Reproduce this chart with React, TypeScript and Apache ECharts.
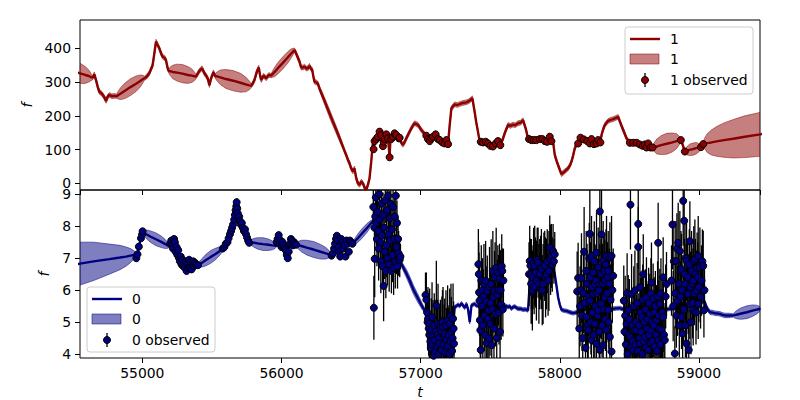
import React, { useEffect, useRef } from "react";
import * as echarts from "echarts";

// ---------------- data ----------------
const X_MIN = 54552;
const X_MAX = 59439;
const TOP_Y = [-20, 484];
const BOT_Y = [3.88, 9.13];

// top model (output "1"): [t, mean, sd]
const redModel: number[][] = [
  [54460,335,28],[54500,331,31],[54552,326,30],[54590,321,25],[54615,318,18],[54635,314,9],[54643,313,6],
  [54655,323,7],[54667,306,7],[54680,285,7],[54691,271,7],[54703,268,7],[54715,262,7],[54727,255,7],[54739,244,7],[54750,256,7],[54763,262,7],[54780,258,7],[54799,259,7],[54815,258,6],
  [54825,261,11],[54845,266,18],[54875,274,23],[54915,285,25],[54955,295,23],[54985,303,18],[55005,309,11],[55014,311,6],
  [55031,316,7],[55050,326,7],[55074,350,7],[55088,390,7],[55098,420,7],[55110,410,7],[55122,400,7],[55135,385,7],[55146,375,7],[55160,372,7],[55170,365,7],[55182,341,7],[55189,333,6],
  [55199,332,12],[55219,330,20],[55249,328,25],[55288,325,27],[55327,321,25],[55356,319,20],[55376,317,12],[55386,316,6],
  [55398,325,7],[55410,333,7],[55429,341,7],[55446,326,7],[55460,318,7],[55470,311,7],[55482,291,7],[55494,311,7],[55511,329,7],[55523,318,6],
  [55536,317,13],[55562,314,22],[55601,309,28],[55653,304,30],[55705,298,28],[55743,293,22],[55769,290,13],[55782,289,6],
  [55795,297,7],[55806,306,7],[55823,331,7],[55837,343,7],[55846,320,7],[55854,306,7],[55871,319,7],[55890,311,7],[55909,321,7],[55926,319,6],
  [55934,323,9],[55951,330,14],[55976,342,17],[56010,357,18],[56043,372,17],[56068,384,14],[56085,391,9],[56093,395,6],
  [56102,388,7],[56110,380,7],[56130,360,7],[56142,343,7],[56155,343,7],[56166,346,7],[56178,340,7],[56190,341,7],[56201,348,7],[56212,340,7],[56221,336,7],[56230,315,7],[56237,301,7],[56250,299,7],[56261,296,7],[56273,281,7],
  [56290,264,9],[56320,233,11],[56357,195,12],[56395,157,11],[56425,126,9],[56441,109,7],
  [56453,96,7],[56465,84,7],[56477,70,7],[56489,59,7],[56500,45,7],[56513,35,7],[56525,44,7],[56537,15,7],[56549,0,7],[56561,-5,7],[56573,5,7],[56585,0,7],[56595,-10,7],[56604,-20,7],[56613,-15,7],[56621,-5,7],[56633,15,7],[56645,64,7],[56657,123,7],
  [56662,105,5],[56675,128,5],[56693,136,5],[56710,146,5],[56729,118,5],[56741,131,5],[56753,142,5],[56765,134,5],[56777,80,5],[56783,128,5],[56795,133,5],[56813,146,5],[56830,140,5],[56849,133,5],
  [56861,120,7],[56873,114,7],[56885,122,7],[56897,133,7],[56921,153,7],[56940,168,7],[56957,178,7],[56981,173,7],[57005,158,7],[57025,148,7],
  [57041,139,5],[57065,128,5],[57089,136,5],[57108,143,5],[57125,132,5],[57156,123,5],[57173,119,5],[57185,126,5],[57197,117,5],
  [57209,173,7],[57221,222,7],[57245,234,7],[57265,232,7],[57281,235,7],[57305,238,7],[57329,240,7],[57350,244,7],[57372,252,7],[57388,212,7],[57400,180,7],[57412,153,7],
  [57424,125,5],[57448,121,5],[57468,122,5],[57484,118,5],[57501,112,5],[57520,110,5],[57540,117,5],[57556,124,5],[57573,115,5],
  [57590,130,7],[57604,148,7],[57628,173,7],[57645,170,7],[57664,174,7],[57680,172,7],[57700,178,7],[57720,180,7],[57736,187,7],[57755,163,7],
  [57772,133,5],[57796,128,5],[57832,128,5],[57856,130,5],[57892,126,5],[57928,134,5],[57945,125,5],
  [57952,123,7],[57964,84,7],[57976,68,7],[57988,54,7],[58000,40,7],[58012,27,7],[58024,31,7],[58036,35,7],[58048,40,7],[58060,44,7],[58072,52,7],[58084,64,7],[58096,82,7],[58108,104,7],[58120,115,7],
  [58132,119,5],[58149,133,5],[58173,130,5],[58197,125,5],[58216,119,5],[58228,129,5],[58245,117,5],[58264,119,5],[58276,127,5],[58292,122,5],
  [58300,143,7],[58312,160,7],[58324,173,7],[58348,185,7],[58366,188,7],[58384,190,7],[58400,193,7],[58420,197,7],[58432,183,7],[58444,170,7],[58456,158,7],[58480,133,7],
  [58504,120,5],[58528,120,5],[58552,120,5],[58575,116,5],[58595,112,5],[58611,114,5],[58635,115,5],[58652,108,5],[58667,106,5],
  [58677,107,12],[58697,109,22],[58728,113,28],[58769,117,31],[58809,121,28],[58840,125,22],[58860,127,12],[58870,128,5],
  [58880,118,6],[58899,94,5],
  [58905,95,8],[58916,97,13],[58933,99,17],[58957,101,18],[58980,104,17],[58997,105,13],[59008,106,8],[59014,107,5],
  [59031,117,5],[59040,118,15],[59060,119,28],[59090,121,37],[59127,124,44],[59180,128,51],[59247,132,57],[59330,138,62],[59439,145,65],[59500,149,66]
];

// top observations: [t, value, err]
const redObs: number[][] = [
  [56662,101,4],[56669,125,4],[56681,131,4],[56693,138,4],[56705,153,4],[56717,143,4],[56729,110,4],[56734,123,4],[56741,131,4],[56753,145,4],[56765,133,4],[56777,77,4],[56789,131,4],[56801,138,4],[56813,148,4],[56825,143,4],[56844,133,4],[56849,135,4],
  [57041,141,4],[57053,131,4],[57065,125,4],[57077,133,4],[57089,138,4],[57108,145,4],[57125,131,4],[57137,128,4],[57156,121,4],[57173,118,4],[57185,128,4],[57197,116,4],
  [57432,123,4],[57448,121,4],[57468,123,4],[57484,118,4],[57501,111,4],[57520,109,4],[57540,118,4],[57556,125,4],[57573,113,4],
  [57779,131,4],[57796,128,4],[57813,128,4],[57832,128,4],[57856,131,4],[57875,131,4],[57892,125,4],[57909,123,4],[57928,138,4],[57940,125,4],
  [58132,118,4],[58149,135,4],[58173,130,4],[58197,125,4],[58216,118,4],[58228,131,4],[58245,116,4],[58264,118,4],[58276,128,4],[58292,121,4],
  [58504,120,4],[58528,120,4],[58552,120,4],[58575,115,4],[58595,111,4],[58611,115,4],[58623,106,4],[58635,118,4],[58652,106,4],[58667,106,4],
  [58870,128,4],[58899,94,4],[59014,107,4],[59031,116,4]
];

// bottom model (output "0"): [t, mean, sd]
const blueModel: number[][] = [
  [54450,6.75,0.75],[54552,6.83,0.67],[54650,6.9,0.6],[54763,6.97,0.47],[54840,7.02,0.38],[54883,7.05,0.3],[54915,7.08,0.22],[54940,7.1,0.13],[54959,7.12,0.04],
  [54965,7.14,0.04],[54975,7.36,0.04],[54990,7.62,0.04],[55002,7.8,0.04],
  [55012,7.78,0.09],[55031,7.74,0.14],[55060,7.67,0.18],[55098,7.59,0.2],[55136,7.51,0.18],[55165,7.44,0.14],[55184,7.4,0.09],[55194,7.38,0.04],
  [55206,7.48,0.04],[55218,7.5,0.04],[55230,7.59,0.04],[55242,7.38,0.04],[55254,7.22,0.04],[55266,7.07,0.04],[55285,6.97,0.04],[55302,6.86,0.04],[55326,6.76,0.04],[55350,6.81,0.04],[55374,6.76,0.04],[55398,6.81,0.04],[55405,6.79,0.04],
  [55414,6.82,0.09],[55431,6.86,0.14],[55457,6.94,0.18],[55492,7.04,0.2],[55526,7.13,0.18],[55552,7.21,0.14],[55569,7.25,0.09],[55578,7.28,0.04],
  [55590,7.33,0.04],[55602,7.43,0.04],[55614,7.53,0.04],[55626,7.64,0.04],[55638,7.74,0.04],[55647,7.87,0.04],[55655,8.0,0.04],[55661,8.15,0.04],[55667,8.31,0.04],[55673,8.5,0.04],[55679,8.67,0.04],[55685,8.45,0.04],[55691,8.31,0.04],[55703,8.15,0.04],[55712,8.1,0.04],[55722,8.05,0.04],[55734,7.97,0.04],[55746,7.89,0.04],[55755,7.75,0.04],[55765,7.64,0.04],[55775,7.5,0.04],
  [55784,7.49,0.09],[55803,7.48,0.14],[55831,7.46,0.18],[55868,7.44,0.2],[55906,7.42,0.18],[55934,7.4,0.14],[55953,7.39,0.09],[55962,7.38,0.04],
  [55974,7.58,0.04],[55986,7.52,0.04],[55998,7.48,0.04],[56010,7.42,0.04],[56022,7.38,0.04],[56034,7.33,0.04],[56046,7.28,0.04],[56058,7.36,0.04],[56070,7.43,0.04],[56082,7.46,0.04],[56094,7.48,0.04],[56105,7.43,0.04],
  [56118,7.41,0.11],[56143,7.38,0.18],[56181,7.33,0.23],[56231,7.27,0.25],[56281,7.2,0.23],[56319,7.15,0.18],[56344,7.12,0.11],[56357,7.1,0.04],
  [56369,7.22,0.04],[56381,7.35,0.04],[56393,7.48,0.04],[56405,7.58,0.04],[56417,7.64,0.04],[56429,7.6,0.04],[56441,7.58,0.04],[56453,7.48,0.04],[56465,7.38,0.04],[56477,7.4,0.04],[56489,7.43,0.04],[56501,7.46,0.04],[56513,7.48,0.04],
  [56520,7.5,0.07],[56535,7.56,0.11],[56556,7.66,0.14],[56585,7.8,0.15],[56614,7.94,0.14],[56636,8.05,0.11],[56650,8.12,0.07],[56657,8.15,0.04],
  [56669,8.26,0.05],[56690,8.1,0.05],[56710,7.95,0.05],[56730,7.8,0.05],[56750,7.65,0.05],[56770,7.5,0.05],[56790,7.35,0.05],[56810,7.25,0.05],[56830,7.15,0.05],[56850,6.95,0.06],
  [56870,6.75,0.1],[56900,6.5,0.13],[56921,6.3,0.14],[56950,6.0,0.14],[56980,5.75,0.13],[57010,5.5,0.1],[57029,5.37,0.07],
  [57045,5.1,0.05],[57065,4.85,0.05],[57090,4.7,0.05],[57120,4.65,0.05],[57150,4.7,0.05],[57180,4.75,0.05],[57210,4.8,0.05],[57235,4.95,0.05],
  [57245,5.47,0.06],[57257,5.5,0.06],[57269,5.55,0.06],[57281,5.5,0.06],[57293,5.59,0.06],[57305,5.52,0.06],[57317,5.45,0.06],[57329,5.57,0.06],[57341,5.4,0.06],[57353,5.0,0.06],[57365,5.52,0.06],[57376,5.55,0.06],[57388,5.57,0.06],[57400,5.52,0.06],
  [57430,5.5,0.05],[57470,5.55,0.05],[57510,5.52,0.05],[57550,5.5,0.05],[57580,5.55,0.05],
  [57604,5.52,0.06],[57616,5.5,0.06],[57628,5.47,0.06],[57640,5.5,0.06],[57652,5.42,0.06],[57664,5.47,0.06],[57676,5.49,0.06],[57688,5.45,0.06],[57700,5.42,0.06],[57718,5.42,0.06],[57736,5.39,0.06],[57754,5.4,0.06],[57772,5.37,0.06],
  [57784,6.19,0.05],[57808,6.5,0.05],[57840,6.52,0.05],[57880,6.5,0.05],[57916,6.6,0.05],[57952,6.71,0.05],
  [57964,6.5,0.06],[57976,6.15,0.06],[57988,5.78,0.06],[58000,5.55,0.06],[58012,5.39,0.06],[58030,5.36,0.06],[58048,5.35,0.06],[58072,5.31,0.06],[58096,5.28,0.06],[58114,5.3,0.06],[58132,5.31,0.06],[58156,5.42,0.05],
  [58200,5.4,0.05],[58250,5.45,0.05],[58300,5.42,0.05],[58350,5.4,0.05],
  [58384,5.42,0.06],[58408,5.43,0.06],[58432,5.44,0.06],[58450,5.41,0.06],[58468,5.42,0.06],
  [58520,5.4,0.05],[58580,5.4,0.05],[58640,5.38,0.05],[58700,5.4,0.05],
  [58743,5.39,0.06],[58767,5.4,0.06],[58791,5.42,0.06],[58810,5.43,0.06],[58827,5.45,0.06],
  [58870,5.45,0.05],[58920,5.5,0.05],[58970,5.55,0.05],[59010,5.6,0.05],
  [59040,5.65,0.07],[59055,5.47,0.07],[59067,5.38,0.07],[59079,5.31,0.07],[59097,5.3,0.07],[59115,5.28,0.07],[59133,5.27,0.07],[59151,5.26,0.07],[59169,5.23,0.07],[59187,5.21,0.07],[59215,5.21,0.07],[59247,5.21,0.05],
  [59257,5.22,0.09],[59276,5.24,0.14],[59305,5.27,0.18],[59345,5.31,0.2],[59385,5.36,0.18],[59414,5.39,0.14],[59433,5.41,0.09],[59443,5.42,0.04]
];

// bottom observations: [t, value, err]
const blueObsEarly: number[][] = [
  [54957,7.0,0.03],[54965,7.12,0.03],[54975,7.36,0.03],[54990,7.62,0.03],[54998,7.74,0.03],[55002,7.84,0.03],
  [55200,7.45,0.05],[55208,7.55,0.05],[55214,7.4,0.05],[55220,7.3,0.05],[55228,7.6,0.05],[55234,7.5,0.05],[55240,7.2,0.05],[55246,7.35,0.05],[55252,7.1,0.05],[55258,7.25,0.05],[55264,7.0,0.05],[55270,6.9,0.05],[55276,7.05,0.05],[55282,6.8,0.05],[55288,6.95,0.05],[55294,6.75,0.05],[55300,6.85,0.05],[55306,6.7,0.05],[55312,6.9,0.05],[55318,6.6,0.05],[55324,6.8,0.05],[55330,6.7,0.05],[55336,6.95,0.05],[55342,6.75,0.05],[55348,6.85,0.05],[55354,6.65,0.05],[55360,6.8,0.05],[55366,6.9,0.05],[55372,6.75,0.05],[55380,6.85,0.05],[55390,6.8,0.05],[55400,6.78,0.05],
  [55578,7.3,0.05],[55590,7.35,0.05],[55600,7.45,0.05],[55612,7.5,0.05],[55620,7.62,0.05],[55630,7.75,0.05],[55638,7.85,0.05],[55645,7.95,0.05],[55652,8.05,0.05],[55660,8.2,0.05],[55665,8.35,0.05],[55670,8.5,0.05],[55675,8.62,0.05],[55678,8.75,0.05],[55682,8.55,0.05],[55686,8.4,0.05],[55690,8.25,0.05],[55696,8.3,0.05],[55702,8.15,0.05],[55708,8.05,0.05],[55715,8.1,0.05],[55722,7.95,0.05],[55730,7.85,0.05],[55738,7.9,0.05],[55745,7.75,0.05],[55752,7.65,0.05],[55760,7.55,0.05],[55768,7.48,0.05],
  [55965,7.5,0.05],[55972,7.6,0.05],[55980,7.72,0.05],[55988,7.45,0.05],[55994,7.55,0.05],[56000,7.35,0.05],[56008,7.5,0.05],[56015,7.4,0.05],[56022,7.3,0.05],[56030,7.25,0.05],[56038,7.1,0.05],[56045,7.0,0.05],[56052,7.2,0.05],[56060,7.45,0.05],[56068,7.6,0.05],[56075,7.55,0.05],[56082,7.4,0.05],[56090,7.5,0.05],[56098,7.45,0.05],[56105,7.42,0.05],
  [56360,7.08,0.05],[56370,7.15,0.05],[56378,7.3,0.05],[56385,7.45,0.05],[56392,7.6,0.05],[56398,7.7,0.05],[56405,7.55,0.05],[56410,7.35,0.05],[56416,7.2,0.05],[56422,7.05,0.05],[56430,7.6,0.05],[56437,7.5,0.05],[56444,7.3,0.05],[56452,7.4,0.05],[56460,7.05,0.05],[56468,7.55,0.05],[56476,7.45,0.05],[56484,7.2,0.05],[56492,7.55,0.05],[56500,7.5,0.05],[56510,7.45,0.05]
];

const blueObsLate: number[][] = [
  [56660,8.6,0.55],[56664,5.45,1.0],[56668,7.95,0.45],[56670,6.98,1.2],[56674,8.3,0.7],[56678,8.9,0.8],[56682,8.1,0.7],[56686,7.6,0.85],[56690,8.45,0.7],[56694,7.85,0.85],[56698,7.3,1.0],[56702,9.0,0.85],[56706,8.2,0.7],[56710,7.5,0.85],[56714,6.9,1.0],[56718,8.7,0.85],[56722,7.7,0.85],[56726,6.75,0.7],[56730,8.35,0.7],[56734,6.13,1.1],[56738,7.95,0.85],[56742,7.2,0.85],[56746,8.8,0.7],[56750,6.6,0.85],[56754,7.4,1.0],[56758,8.5,0.85],[56762,7.0,0.85],[56766,8.95,0.7],[56770,7.75,0.85],[56774,6.8,0.85],[56778,8.25,0.85],[56782,7.55,1.0],[56786,8.7,0.7],[56790,6.6,0.7],[56794,7.9,0.7],[56798,7.1,0.85],[56802,8.6,0.7],[56806,6.7,0.85],[56810,7.6,0.85],[56814,8.3,0.7],[56818,6.9,0.85],[56822,8.95,0.7],[56826,7.35,0.85],[56830,8.1,0.7],[56834,6.75,0.7],[56838,7.6,0.7],[56842,7.15,0.7],[56846,7.0,0.55],[56850,6.95,0.55],[56855,7.05,0.4],
  [57035,5.85,0.7],[57041,5.7,0.85],[57046,5.31,0.7],[57050,5.0,0.85],[57053,5.1,1.0],[57058,4.8,0.85],[57062,4.6,0.7],[57065,4.95,1.1],[57070,4.4,0.85],[57074,4.2,0.7],[57077,4.75,1.0],[57082,5.15,1.1],[57086,4.3,0.85],[57089,4.59,1.1],[57094,3.95,0.7],[57098,4.9,1.0],[57101,4.44,1.25],[57106,4.1,0.85],[57110,4.7,1.0],[57113,5.52,1.4],[57118,4.25,0.85],[57122,4.6,1.1],[57125,4.95,1.25],[57130,4.0,0.7],[57134,4.5,1.0],[57137,4.33,1.1],[57142,4.85,0.85],[57146,4.15,1.0],[57149,4.13,0.85],[57153,4.7,1.1],[57157,5.0,1.0],[57161,4.85,1.25],[57165,4.3,0.85],[57169,4.55,1.0],[57173,4.64,1.1],[57178,4.05,0.85],[57182,4.9,1.1],[57185,4.44,1.0],[57190,4.2,0.85],[57194,5.05,1.1],[57197,4.28,1.25],[57202,4.6,0.85],[57206,4.0,0.7],[57209,4.95,1.1],[57214,4.4,0.85],[57218,5.2,1.0],[57221,4.69,1.1],[57226,4.1,0.7],[57230,4.5,1.0],[57233,5.11,1.1],[57237,4.8,0.85],[57240,4.33,1.0],
  [57415,6.81,1.1],[57418,6.5,1.0],[57420,5.93,1.25],[57423,5.67,1.1],[57426,5.06,1.0],[57429,4.75,1.25],[57432,4.13,0.85],[57436,6.3,1.1],[57440,5.5,1.25],[57444,6.0,1.0],[57447,4.9,1.1],[57451,5.8,0.85],[57455,6.19,1.25],[57459,5.2,1.1],[57463,4.6,1.0],[57467,6.29,1.25],[57471,5.65,1.1],[57475,4.35,0.85],[57479,5.98,1.1],[57483,5.1,1.25],[57487,5.37,1.0],[57491,4.49,1.1],[57495,6.1,1.25],[57499,4.95,1.0],[57503,5.6,1.1],[57507,6.19,1.4],[57511,4.28,0.85],[57515,5.4,1.1],[57519,6.6,1.25],[57523,5.78,1.0],[57527,4.8,1.1],[57531,5.98,1.25],[57535,6.4,1.1],[57539,5.25,1.0],[57543,6.7,1.25],[57547,4.5,1.0],[57551,5.85,1.1],[57555,6.55,0.85],[57559,6.0,1.1],[57563,5.3,1.0],[57567,6.35,1.1],[57571,4.7,0.85],[57575,6.0,1.25],[57579,5.55,1.1],[57583,6.75,1.0],[57587,6.6,0.7],[57591,5.4,0.85],[57595,6.3,1.0],
  [57779,6.5,1.0],[57784,6.91,1.1],[57789,6.76,0.85],[57794,6.2,1.25],[57796,6.5,1.1],[57800,5.95,1.0],[57803,5.99,1.25],[57808,6.4,1.0],[57812,6.85,1.1],[57816,6.1,0.85],[57820,6.76,1.25],[57826,6.55,1.1],[57832,6.3,1.25],[57838,6.95,1.0],[57844,6.86,1.1],[57850,6.2,1.25],[57856,6.5,1.1],[57862,6.7,1.0],[57868,6.66,1.25],[57874,6.0,1.1],[57880,6.19,1.25],[57886,6.8,1.0],[57892,6.76,1.1],[57898,6.4,1.25],[57904,6.5,1.1],[57910,6.9,1.0],[57916,6.3,1.1],[57922,6.6,1.25],[57928,7.33,1.0],[57934,6.95,1.1],[57940,7.07,1.0],[57946,6.8,0.85],[57952,7.22,0.85],[57958,6.9,0.7],[57964,7.12,0.7],
  [58125,5.96,1.25],[58132,6.38,1.1],[58140,4.8,1.0],[58146,5.5,1.25],[58152,6.0,1.1],[58156,6.38,1.4],[58160,5.2,1.1],[58165,4.5,1.0],[58170,5.9,1.25],[58175,7.2,1.4],[58180,5.6,1.1],[58185,4.2,0.85],[58190,6.6,1.25],[58192,5.16,1.1],[58196,6.2,1.25],[58200,4.9,1.1],[58204,4.75,1.0],[58208,5.8,1.25],[58212,7.0,1.1],[58216,7.76,1.4],[58216,5.67,1.25],[58220,6.4,1.1],[58224,5.0,1.0],[58228,7.07,1.25],[58228,4.44,1.1],[58232,6.1,1.1],[58236,5.3,1.0],[58240,6.55,1.25],[58240,5.88,1.1],[58244,4.6,1.0],[58248,6.9,1.25],[58252,4.95,1.1],[58252,6.19,1.25],[58256,5.5,1.0],[58260,6.3,1.1],[58264,7.17,1.25],[58264,4.33,1.0],[58268,5.9,1.1],[58272,5.2,1.0],[58276,6.71,1.25],[58276,5.37,1.1],[58280,6.0,1.1],[58284,4.7,1.0],[58288,8.46,1.4],[58288,4.13,0.85],[58288,6.19,1.25],[58292,5.6,1.1],[58296,6.5,1.1],[58300,7.74,1.4],[58300,5.57,1.1],[58304,4.9,1.0],[58308,6.2,1.25],[58312,6.91,1.25],[58312,4.28,1.0],[58316,5.4,1.1],[58320,6.6,1.1],[58324,6.3,1.25],[58324,5.78,1.1],[58328,5.1,1.0],[58332,6.8,1.1],[58336,7.07,1.25],[58336,4.75,1.0],[58340,5.9,1.1],[58344,6.4,1.1],[58348,6.6,1.25],[58348,5.37,1.0],[58352,5.0,0.85],[58356,6.2,1.1],[58360,7.02,1.1],[58360,4.54,1.0],[58365,5.7,1.1],[58372,7.07,1.25],[58372,4.08,0.85],[58378,6.0,1.0],[58384,6.45,0.85],
  [58460,5.67,1.1],[58465,4.7,1.0],[58470,5.2,1.25],[58475,4.3,0.85],[58480,4.95,1.1],[58484,5.9,1.25],[58488,4.0,0.85],[58492,5.37,1.1],[58496,4.6,1.0],[58500,5.1,1.25],[58504,4.54,1.1],[58508,8.67,1.4],[58512,4.2,1.0],[58516,5.88,1.25],[58520,4.9,1.1],[58524,4.4,1.0],[58528,4.13,0.85],[58532,5.5,1.25],[58536,4.75,1.1],[58540,5.99,1.25],[58544,4.3,1.0],[58548,5.0,1.1],[58552,4.75,1.1],[58556,5.6,1.25],[58560,4.1,0.85],[58564,8.07,1.4],[58564,7.35,1.25],[58568,4.9,1.0],[58572,4.5,1.1],[58576,6.09,1.25],[58576,4.33,1.0],[58580,5.3,1.1],[58584,4.7,1.1],[58588,5.16,1.25],[58592,4.0,0.85],[58596,5.7,1.1],[58600,6.5,1.25],[58604,4.4,1.0],[58608,5.0,1.1],[58611,4.54,1.1],[58615,5.4,1.25],[58619,4.2,0.85],[58623,5.78,1.25],[58627,4.8,1.0],[58631,5.1,1.1],[58635,4.13,1.0],[58639,5.6,1.1],[58643,4.6,1.0],[58647,5.26,1.25],[58651,4.35,1.0],[58655,5.9,1.1],[58659,6.24,1.25],[58659,4.75,1.1],[58663,5.0,1.0],[58667,4.4,1.0],[58671,5.73,1.1],[58675,4.9,1.0],[58679,5.3,1.1],[58683,4.23,1.0],[58687,5.5,1.1],[58691,4.6,1.0],[58695,5.06,1.1],[58699,4.1,0.85],[58703,5.8,1.1],[58707,7.48,1.25],[58707,4.44,1.0],[58711,5.2,1.1],[58715,4.8,1.0],[58719,5.57,1.1],[58723,4.3,1.0],[58727,5.9,1.1],[58731,4.75,1.0],[58735,5.3,1.1],[58739,4.5,1.0],[58743,6.4,1.25],[58743,5.16,1.1],[58749,4.6,1.0],[58755,4.44,0.85],[58761,5.8,1.0],[58767,6.19,1.0],
  [58803,6.3,1.1],[58810,8.05,1.4],[58815,5.5,1.1],[58820,6.9,1.25],[58827,4.02,0.85],[58830,5.9,1.1],[58834,6.91,1.25],[58838,5.2,1.0],[58842,7.3,1.1],[58846,5.67,1.1],[58851,7.48,1.25],[58855,6.2,1.1],[58859,4.9,1.0],[58863,7.22,1.25],[58867,5.8,1.1],[58871,6.6,1.25],[58875,6.66,1.1],[58875,5.16,1.0],[58879,6.0,1.1],[58883,4.64,1.0],[58887,8.79,1.4],[58890,5.4,1.1],[58894,8.17,1.4],[58897,6.5,1.1],[58899,6.19,1.25],[58903,4.9,1.0],[58907,7.0,1.1],[58911,6.91,1.25],[58911,4.33,1.0],[58915,5.9,1.1],[58919,6.4,1.1],[58923,5.88,1.25],[58927,4.13,0.85],[58931,6.8,1.1],[58935,7.53,1.25],[58935,5.57,1.1],[58939,6.1,1.1],[58943,5.0,1.0],[58947,6.6,1.25],[58951,6.2,1.1],[58955,5.6,1.1],[58959,6.3,1.25],[58959,5.37,1.1],[58963,6.9,1.1],[58967,5.9,1.0],[58971,6.96,1.25],[58975,6.5,1.1],[58979,5.3,1.0],[58983,5.99,1.25],[58987,6.7,1.1],[58991,6.4,1.1],[58995,7.07,1.25],[58995,5.57,1.1],[59000,6.1,1.1],[59007,6.71,1.25],[59012,5.8,1.0],[59019,6.3,1.1],[59025,6.9,1.0],[59031,6.76,1.1],[59036,5.37,0.85],[59040,6.0,0.7]
];

const blueObs = blueObsEarly.concat(blueObsLate);

// ---------------- styles ----------------
const RED = "#8B0000";
const RED_FILL = "rgba(139,0,0,0.5)";
const BLUE = "#000080";
const BLUE_FILL = "rgba(0,0,128,0.5)";
const FONT = "DejaVu Sans";
const FS = 13.9;

function bandSeries(model: number[][], idx: number, fill: string) {
  return {
    type: "custom",
    xAxisIndex: idx,
    yAxisIndex: idx,
    clip: true,
    z: 1,
    silent: true,
    data: model.map((d) => [d[0], d[1], d[2]]),
    renderItem: (params: any, api: any) => {
      if (params.dataIndex !== 0) return null;
      const up = model.map((d) => api.coord([d[0], d[1] + d[2]]));
      const lo = model.map((d) => api.coord([d[0], d[1] - d[2]])).reverse();
      return {
        type: "polygon",
        shape: { points: up.concat(lo) },
        style: { fill, stroke: fill, lineWidth: 1 },
      };
    },
  };
}

function lineSeries(model: number[][], idx: number, color: string) {
  return {
    type: "line",
    xAxisIndex: idx,
    yAxisIndex: idx,
    z: 2,
    showSymbol: false,
    symbol: "none",
    clip: true,
    silent: true,
    data: model.map((d) => [d[0], d[1]]),
    lineStyle: { color, width: 2.4 },
  };
}

function errSeries(obs: number[][], idx: number) {
  return {
    type: "custom",
    xAxisIndex: idx,
    yAxisIndex: idx,
    clip: true,
    z: 3,
    silent: true,
    data: obs.map((d) => [d[0], d[1], d[2]]),
    renderItem: (params: any, api: any) => {
      const t = api.value(0);
      const v = api.value(1);
      const e = api.value(2);
      const a = api.coord([t, v - e]);
      const b = api.coord([t, v + e]);
      return {
        type: "line",
        shape: { x1: a[0], y1: a[1], x2: b[0], y2: b[1] },
        style: { stroke: "#000", lineWidth: 1.3 },
      };
    },
  };
}

function pointSeries(obs: number[][], idx: number, color: string) {
  return {
    type: "scatter",
    xAxisIndex: idx,
    yAxisIndex: idx,
    z: 4,
    clip: true,
    silent: true,
    symbol: "circle",
    symbolSize: 7,
    data: obs.map((d) => [d[0], d[1]]),
    itemStyle: { color, borderColor: "#000", borderWidth: 1, opacity: 1 },
  };
}

function legendGraphics(
  box: [number, number, number, number],
  color: string,
  fill: string,
  label: string
) {
  const [x, y, w, h] = box;
  const lx = x + 5;
  const tx = x + 45;
  const rows = [y + 12, y + 32, y + 53];
  const textStyle = (txt: string, ty: number) => ({
    type: "text",
    x: tx,
    y: ty,
    style: {
      text: txt,
      fill: "#000",
      font: `${FS}px "${FONT}"`,
      align: "left",
      verticalAlign: "middle",
      textAlign: "left",
      textVerticalAlign: "middle",
    },
  });
  return [
    {
      type: "rect",
      shape: { x, y, width: w, height: h, r: 3 },
      style: { fill: "rgba(255,255,255,0.8)", stroke: "#cccccc", lineWidth: 1 },
      z: 100,
    },
    { type: "line", shape: { x1: lx, y1: rows[0], x2: lx + 30, y2: rows[0] }, style: { stroke: color, lineWidth: 2.4 }, z: 101 },
    { ...textStyle(label, rows[0]), z: 101 },
    { type: "rect", shape: { x: lx, y: rows[1] - 5, width: 29, height: 10 }, style: { fill, stroke: fill, lineWidth: 1 }, z: 101 },
    { ...textStyle(label, rows[1]), z: 101 },
    { type: "line", shape: { x1: lx + 15, y1: rows[2] - 7, x2: lx + 15, y2: rows[2] + 7 }, style: { stroke: "#000", lineWidth: 1.3 }, z: 101 },
    { type: "circle", shape: { cx: lx + 15, cy: rows[2], r: 3.5 }, style: { fill: color, stroke: "#000", lineWidth: 1 }, z: 102 },
    { ...textStyle(label + " observed", rows[2]), z: 101 },
  ];
}

const axisLabelStyle = {
  color: "#000",
  fontFamily: FONT,
  fontSize: FS,
};

function xAxisCfg(idx: number, showLabels: boolean) {
  return {
    gridIndex: idx,
    type: "value",
    min: X_MIN,
    max: X_MAX,
    splitNumber: 5,
    axisLine: { show: false, onZero: false },
    axisTick: { show: true, inside: false, length: 5, lineStyle: { color: "#000", width: 1 } },
    axisLabel: {
      show: showLabels,
      ...axisLabelStyle,
      margin: 8,
      showMinLabel: false,
      showMaxLabel: false,
      formatter: (v: number) => String(v),
    },
    splitLine: { show: false },
    ...(showLabels
      ? {
          name: "t",
          nameLocation: "middle",
          nameGap: 27,
          nameTextStyle: { color: "#000", fontFamily: FONT, fontSize: FS, fontStyle: "italic" },
        }
      : {}),
  };
}

function yAxisCfg(idx: number, range: number[], gap: number) {
  return {
    gridIndex: idx,
    type: "value",
    min: range[0],
    max: range[1],
    splitNumber: 5,
    axisLine: { show: false, onZero: false },
    axisTick: { show: true, inside: false, length: 5, lineStyle: { color: "#000", width: 1 } },
    axisLabel: {
      ...axisLabelStyle,
      margin: 9,
      showMinLabel: false,
      showMaxLabel: false,
      formatter: (v: number) => String(v),
    },
    splitLine: { show: false },
    name: "f",
    nameLocation: "middle",
    nameGap: gap,
    nameRotate: 90,
    nameTextStyle: { color: "#000", fontFamily: FONT, fontSize: FS, fontStyle: "italic" },
  };
}

export default function App() {
  const ref = useRef<HTMLDivElement>(null);
  useEffect(() => {
    if (!ref.current) return;
    const chart = echarts.init(ref.current, undefined, { renderer: "svg" });
    const option: any = {
      animation: false,
      backgroundColor: "#fff",
      textStyle: { fontFamily: FONT },
      grid: [
        { left: 80, top: 20, width: 680, height: 170, show: true, borderColor: "#000", borderWidth: 1, backgroundColor: "transparent" },
        { left: 80, top: 190, width: 680, height: 170, show: true, borderColor: "#000", borderWidth: 1, backgroundColor: "transparent" },
      ],
      xAxis: [xAxisCfg(0, false), xAxisCfg(1, true)],
      yAxis: [yAxisCfg(0, TOP_Y, 43), yAxisCfg(1, BOT_Y, 24)],
      series: [
        bandSeries(redModel, 0, RED_FILL),
        lineSeries(redModel, 0, RED),
        errSeries(redObs, 0),
        pointSeries(redObs, 0, RED),
        bandSeries(blueModel, 1, BLUE_FILL),
        lineSeries(blueModel, 1, BLUE),
        errSeries(blueObs, 1),
        pointSeries(blueObs, 1, BLUE),
      ],
      graphic: [
        ...legendGraphics([625, 27, 128, 67], RED, RED_FILL, "1"),
        ...legendGraphics([87, 287, 128, 65], BLUE, BLUE_FILL, "0"),
      ],
    };
    chart.setOption(option);
    return () => chart.dispose();
  }, []);
  return (
    <div
      ref={ref}
      style={{ position: "fixed", left: 0, top: 0, width: 800, height: 400, background: "#fff" }}
    />
  );
}
